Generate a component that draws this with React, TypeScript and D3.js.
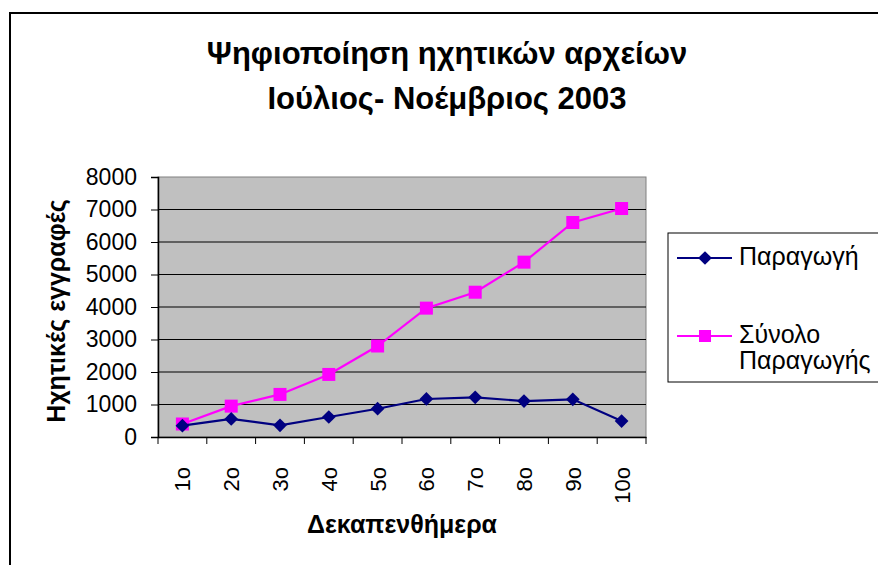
import React from "react";
import * as d3 from "d3";

// periods (fortnights) on the x axis
const periods = ["1ο", "2ο", "3ο", "4ο", "5ο", "6ο", "7ο", "8ο", "9ο", "10ο"];
// production per fortnight
const production = [350, 555, 360, 615, 870, 1170, 1220, 1105, 1160, 490];
// running total
const totalProduction = [400, 950, 1310, 1925, 2800, 3965, 4455, 5380, 6600, 7030];
const yTicks = [0, 1000, 2000, 3000, 4000, 5000, 6000, 7000, 8000];

const FONT = "'Liberation Sans', Arial, sans-serif";
const NAVY = "#000080";
const MAGENTA = "#FF00FF";

const App = () => {
  const ref = React.useRef<SVGSVGElement>(null);

  React.useEffect(() => {
    const svg = d3.select(ref.current);
    svg.selectAll("*").remove();

    const left = 158, top = 177, right = 646, bottom = 437;

    var x = d3.scaleBand().domain(periods).range([left, right]);
    var y = d3.scaleLinear().domain([0, 8000]).range([bottom, top]);

    // outer frame
    svg.append("rect")
      .attr("x", 10).attr("y", 13).attr("width", 900).attr("height", 600)
      .attr("fill", "white").attr("stroke", "black").attr("stroke-width", 2);

    // title
    const title = svg.append("text")
      .attr("text-anchor", "middle")
      .style("font-family", FONT).style("font-weight", "bold").style("font-size", "31px");
    title.append("tspan").attr("x", 447).attr("y", 64).text("Ψηφιοποίηση ηχητικών αρχείων");
    title.append("tspan").attr("x", 447).attr("y", 109).text("Ιούλιος- Νοέμβριος 2003");

    // plot area
    svg.append("rect")
      .attr("x", left).attr("y", top).attr("width", right - left).attr("height", bottom - top)
      .attr("fill", "#C0C0C0").attr("stroke", "#808080").attr("stroke-width", 1);

    // grid lines
    svg.selectAll(".grid")
      .data(yTicks.filter(t => t > 0 && t < 8000))
      .enter().append("line")
      .attr("x1", left).attr("x2", right)
      .attr("y1", d => y(d)).attr("y2", d => y(d))
      .attr("stroke", "black").attr("stroke-width", 1);

    // y axis
    const yAxis = svg.append("g")
      .attr("transform", `translate(${left},0)`)
      .call(d3.axisLeft(y).tickValues(yTicks).tickSize(7).tickPadding(14).tickFormat(d3.format("d")));
    yAxis.select(".domain").attr("stroke", "black").attr("stroke-width", 1.5);
    yAxis.selectAll("text").style("font-family", FONT).style("font-size", "23px").attr("fill", "black");

    // x axis
    const xAxis = svg.append("g")
      .attr("transform", `translate(0,${bottom})`)
      .call(d3.axisBottom(x).tickSize(0).tickSizeOuter(0));
    xAxis.select(".domain").attr("stroke", "black").attr("stroke-width", 1.5);
    xAxis.selectAll(".tick text")
      .style("font-family", FONT).style("font-size", "22px").attr("fill", "black")
      .attr("text-anchor", "end")
      .attr("transform", "translate(8,30) rotate(-90)")
      .attr("x", 0).attr("y", 0).attr("dy", 0);
    // tick marks at category borders
    svg.selectAll(".xtick")
      .data(periods.concat(["end"]))
      .enter().append("line")
      .attr("x1", (d, i) => left + i * x.bandwidth())
      .attr("x2", (d, i) => left + i * x.bandwidth())
      .attr("y1", bottom).attr("y2", bottom + 7)
      .attr("stroke", "black");

    // axis titles
    svg.append("text")
      .attr("transform", "translate(65,311) rotate(-90)")
      .attr("text-anchor", "middle")
      .style("font-family", FONT).style("font-weight", "bold").style("font-size", "25px")
      .text("Ηχητικές εγγραφές");
    svg.append("text")
      .attr("x", 402).attr("y", 533)
      .attr("text-anchor", "middle")
      .style("font-family", FONT).style("font-weight", "bold").style("font-size", "25px")
      .text("Δεκαπενθήμερα");

    const cx = (d: string) => (x(d) as number) + x.bandwidth() / 2;
    const line = d3.line<number>().x((d, i) => cx(periods[i])).y(d => y(d));

    // total series
    svg.append("path").datum(totalProduction)
      .attr("d", line).attr("fill", "none").attr("stroke", MAGENTA).attr("stroke-width", 2.2);
    svg.selectAll(".sq").data(totalProduction).enter().append("rect")
      .attr("x", (d, i) => cx(periods[i]) - 6.5).attr("y", d => y(d) - 6.5)
      .attr("width", 13).attr("height", 13).attr("fill", MAGENTA);

    // production series
    svg.append("path").datum(production)
      .attr("d", line).attr("fill", "none").attr("stroke", NAVY).attr("stroke-width", 2.2);
    const diamond = d3.symbol().type(d3.symbolDiamond2).size(120);
    svg.selectAll(".dm").data(production).enter().append("path")
      .attr("d", diamond)
      .attr("transform", (d, i) => `translate(${cx(periods[i])},${y(d)})`)
      .attr("fill", NAVY);

    // legend
    const lg = svg.append("g");
    lg.append("rect").attr("x", 668).attr("y", 233).attr("width", 260).attr("height", 149)
      .attr("fill", "white").attr("stroke", "black").attr("stroke-width", 1);
    const entries = [
      { color: NAVY, lines: ["Παραγωγή"], y: 258, marker: "diamond" },
      { color: MAGENTA, lines: ["Σύνολο", "Παραγωγής"], y: 336, marker: "square" },
    ];
    entries.forEach(e => {
      lg.append("line").attr("x1", 677).attr("x2", 732).attr("y1", e.y).attr("y2", e.y)
        .attr("stroke", e.color).attr("stroke-width", 2);
      if (e.marker === "diamond") {
        lg.append("path").attr("d", diamond).attr("transform", `translate(705,${e.y})`).attr("fill", e.color);
      } else {
        lg.append("rect").attr("x", 699).attr("y", e.y - 6).attr("width", 12).attr("height", 12).attr("fill", e.color);
      }
      const t = lg.append("text").style("font-family", FONT).style("font-size", "25px");
      e.lines.forEach((s, i) => {
        t.append("tspan").attr("x", 739).attr("y", e.y + 7 + i * 26).text(s);
      });
    });
  }, []);

  return <svg ref={ref} width={878} height={565} style={{ position: "absolute", left: 0, top: 0 }} />;
};

export default App;
